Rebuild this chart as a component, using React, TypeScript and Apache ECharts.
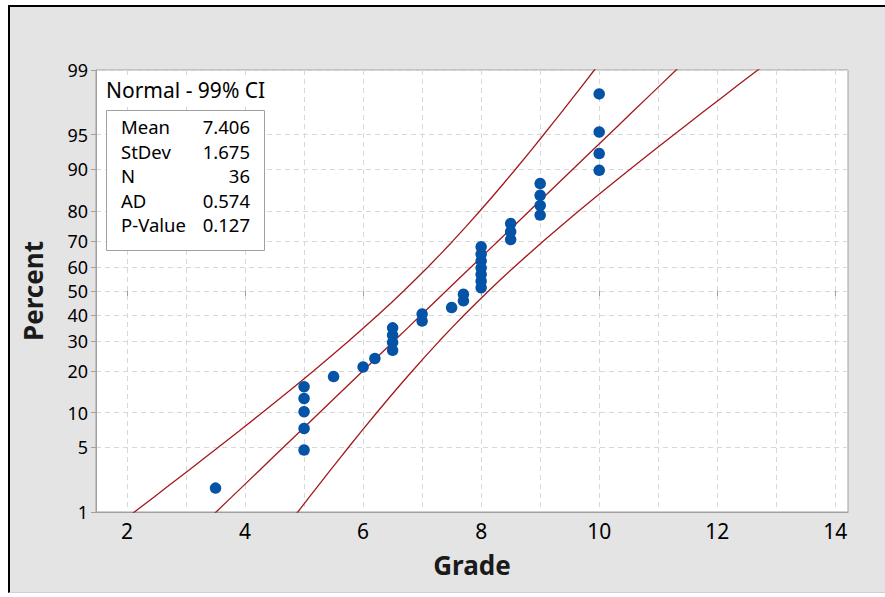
import React, { useEffect, useRef } from "react";
import * as echarts from "echarts";

// ---- data ----
const GRADES = [
  3.5, 5, 5, 5, 5, 5, 5.5, 6, 6.2, 6.5, 6.5, 6.5, 6.5, 7, 7, 7.5, 7.7, 7.7,
  8, 8, 8, 8, 8, 8, 8, 8.5, 8.5, 8.5, 9, 9, 9, 9, 10, 10, 10, 10,
];
const PERCENTS = [
  1.9, 4.7, 7.4, 10.2, 12.9, 15.7, 18.4, 21.2, 23.9, 26.6, 29.4, 32.1, 34.9,
  37.6, 40.4, 43.1, 45.9, 48.6, 51.4, 54.1, 56.9, 59.6, 62.4, 65.1, 67.9, 70.6,
  73.4, 76.1, 78.8, 81.6, 84.3, 87.1, 89.8, 92.6, 95.3, 98.1,
];
const Y_TICKS = [1, 5, 10, 20, 30, 40, 50, 60, 70, 80, 90, 95, 99];
const X_GRID = [2, 3, 4, 5, 6, 7, 8, 9, 10, 11, 12, 13, 14];
const X_LABELS = [2, 4, 6, 8, 10, 12, 14];
const MEAN = 7.406;
const STDEV = 1.675;
const N = 36;
const AD = 0.574;
const PVALUE = 0.127;
const CI_LEVEL = 99;
const CURVE_PERCENTS = [
  0.5, 0.7, 1, 1.5, 2, 3, 4, 5, 7, 10, 13, 16, 20, 25, 30, 35, 40, 45, 50, 55,
  60, 65, 70, 75, 80, 84, 87, 90, 93, 95, 96, 97, 98, 98.5, 99, 99.3, 99.5,
];
const STAT_ROWS: [string, string][] = [
  ["Mean", MEAN.toFixed(3)],
  ["StDev", STDEV.toFixed(3)],
  ["N", String(N)],
  ["AD", AD.toFixed(3)],
  ["P-Value", PVALUE.toFixed(3)],
];

// inverse normal CDF (Acklam)
function probit(p: number): number {
  const a = [-3.969683028665376e1, 2.209460984245205e2, -2.759285104469687e2, 1.38357751867269e2, -3.066479806614716e1, 2.506628277459239];
  const b = [-5.447609879822406e1, 1.615858368580409e2, -1.556989798598866e2, 6.680131188771972e1, -1.328068155288572e1];
  const c = [-7.784894002430293e-3, -3.223964580411365e-1, -2.400758277161838, -2.549732539343734, 4.374664141464968, 2.938163982698783];
  const d = [7.784695709041462e-3, 3.224671290700398e-1, 2.445134137142996, 3.754408661907416];
  const pl = 0.02425;
  let q: number, r: number;
  if (p < pl) {
    q = Math.sqrt(-2 * Math.log(p));
    return (((((c[0] * q + c[1]) * q + c[2]) * q + c[3]) * q + c[4]) * q + c[5]) / ((((d[0] * q + d[1]) * q + d[2]) * q + d[3]) * q + 1);
  }
  if (p > 1 - pl) {
    q = Math.sqrt(-2 * Math.log(1 - p));
    return -(((((c[0] * q + c[1]) * q + c[2]) * q + c[3]) * q + c[4]) * q + c[5]) / ((((d[0] * q + d[1]) * q + d[2]) * q + d[3]) * q + 1);
  }
  q = p - 0.5;
  r = q * q;
  return ((((((a[0] * r + a[1]) * r + a[2]) * r + a[3]) * r + a[4]) * r + a[5]) * q) / (((((b[0] * r + b[1]) * r + b[2]) * r + b[3]) * r + b[4]) * r + 1);
}

const FONT = "'Noto Sans', 'Open Sans', sans-serif";
const RED = "#a3181c";

export default function App() {
  const ref = useRef<HTMLDivElement>(null);
  useEffect(() => {
    if (!ref.current) return;
    const chart = echarts.init(ref.current, null, { renderer: "svg" });
    const zMin = probit(Y_TICKS[0] / 100);
    const zMax = probit(Y_TICKS[Y_TICKS.length - 1] / 100);
    const yTickZ = Y_TICKS.map((p) => probit(p / 100));
    const labelFor = (v: number) => {
      let best = 0;
      let bd = Infinity;
      yTickZ.forEach((z, i) => {
        const dd = Math.abs(z - v);
        if (dd < bd) { bd = dd; best = i; }
      });
      return String(Y_TICKS[best]);
    };
    const crit = probit(1 - (1 - CI_LEVEL / 100) / 2);
    const fit: number[][] = [];
    const lo: number[][] = [];
    const hi: number[][] = [];
    CURVE_PERCENTS.forEach((p) => {
      const z = probit(p / 100);
      const x = MEAN + z * STDEV;
      const se = STDEV * Math.sqrt(1 / N + (z * z) / (2 * N));
      fit.push([x, z]);
      lo.push([x - crit * se, z]);
      hi.push([x + crit * se, z]);
    });
    const points = GRADES.map((g, i) => [g, probit(PERCENTS[i] / 100)]);

    const xMin = 1.475;
    const xMax = 14.215;
    const lineSeries = (data: number[][]) => ({
      type: "line",
      data,
      showSymbol: false,
      symbol: "none",
      clip: true,
      lineStyle: { color: RED, width: 1.3 },
      z: 3,
      xAxisIndex: 0,
      yAxisIndex: 0,
    });

    const legendLeft = 106;
    const boxTop = 110;
    const rowTop = 117;
    const rowH = 24.5;
    const graphics: any[] = [
      { type: "rect", left: 99, top: 78, shape: { width: 178, height: 29 }, style: { fill: "#fff" }, z: 50 },
      { type: "text", left: legendLeft, top: 79, style: { text: `Normal - ${CI_LEVEL}% CI`, font: `21px ${FONT}`, fill: "#000" }, z: 51 },
      { type: "rect", left: legendLeft, top: boxTop, shape: { width: 158, height: 140 }, style: { fill: "#fff", stroke: "#a0a0a0", lineWidth: 1 }, z: 50 },
    ];
    STAT_ROWS.forEach(([k, v], i) => {
      graphics.push({ type: "text", left: 121, top: rowTop + i * rowH, style: { text: k, font: `18.5px ${FONT}`, fill: "#000" }, z: 51 });
      graphics.push({ type: "text", right: 885 - 250, top: rowTop + i * rowH, style: { text: v, font: `18.5px ${FONT}`, fill: "#000", align: "right" }, z: 51 });
    });

    chart.setOption({
      animation: false,
      textStyle: { fontFamily: FONT },
      grid: {
        left: 96, top: 70, width: 752, height: 442,
        show: true, backgroundColor: "#fff", borderColor: "#a0a0a0", borderWidth: 1,
        containLabel: false,
      },
      xAxis: [
        {
          type: "value", min: xMin, max: xMax, position: "bottom",
          axisLine: { show: true, onZero: false, lineStyle: { color: "#a0a0a0", width: 1 } },
          axisTick: { show: false, customValues: X_GRID },
          axisLabel: { show: false, customValues: X_GRID },
          splitLine: { show: true, lineStyle: { color: "#d8d8d8", type: [5, 4], width: 1 } },
          name: "Grade", nameLocation: "middle", nameGap: 40,
          nameTextStyle: { fontSize: 26, fontWeight: "bold", color: "#1a1a1a", fontFamily: FONT },
        },
        {
          type: "value", min: xMin, max: xMax, position: "bottom",
          axisLine: { show: false },
          axisTick: { show: true, customValues: X_LABELS, length: 5, lineStyle: { color: "#a0a0a0" } },
          axisLabel: { show: true, customValues: X_LABELS, margin: 8, fontSize: 21, color: "#000", fontFamily: FONT },
          splitLine: { show: false },
        },
      ],
      yAxis: {
        type: "value", min: zMin, max: zMax,
        axisLine: { show: true, onZero: false, lineStyle: { color: "#a0a0a0", width: 1 } },
        axisTick: { show: true, customValues: yTickZ, length: 5, lineStyle: { color: "#a0a0a0" } },
        axisLabel: { show: true, customValues: yTickZ, formatter: (v: number) => labelFor(v), margin: 8, fontSize: 18, lineHeight: 18, color: "#000", fontFamily: FONT },
        splitLine: { show: true, lineStyle: { color: "#d8d8d8", type: [5, 4], width: 1 } },
        name: "Percent", nameLocation: "middle", nameGap: 50,
        nameTextStyle: { fontSize: 26, fontWeight: "bold", color: "#1a1a1a", fontFamily: FONT },
      },
      series: [
        lineSeries(lo),
        lineSeries(fit),
        lineSeries(hi),
        {
          type: "scatter", data: points, symbol: "circle", symbolSize: 11.5,
          itemStyle: { color: "#0553a6", opacity: 1 }, z: 4, xAxisIndex: 0, yAxisIndex: 0,
        },
      ],
      graphic: graphics,
    });
    return () => chart.dispose();
  }, []);

  return (
    <div style={{ position: "fixed", left: 0, top: 0, width: 885, height: 597, background: "#fff" }}>
      <div
        style={{
          position: "absolute", left: 8, top: 5, width: 877, height: 588,
          background: "#e4e4e4", borderLeft: "2px solid #000", borderTop: "2px solid #000",
          borderBottom: "1px solid #cfcfcf", boxSizing: "border-box",
        }}
      />
      <div ref={ref} style={{ position: "absolute", left: 0, top: 0, width: 885, height: 597 }} />
    </div>
  );
}
